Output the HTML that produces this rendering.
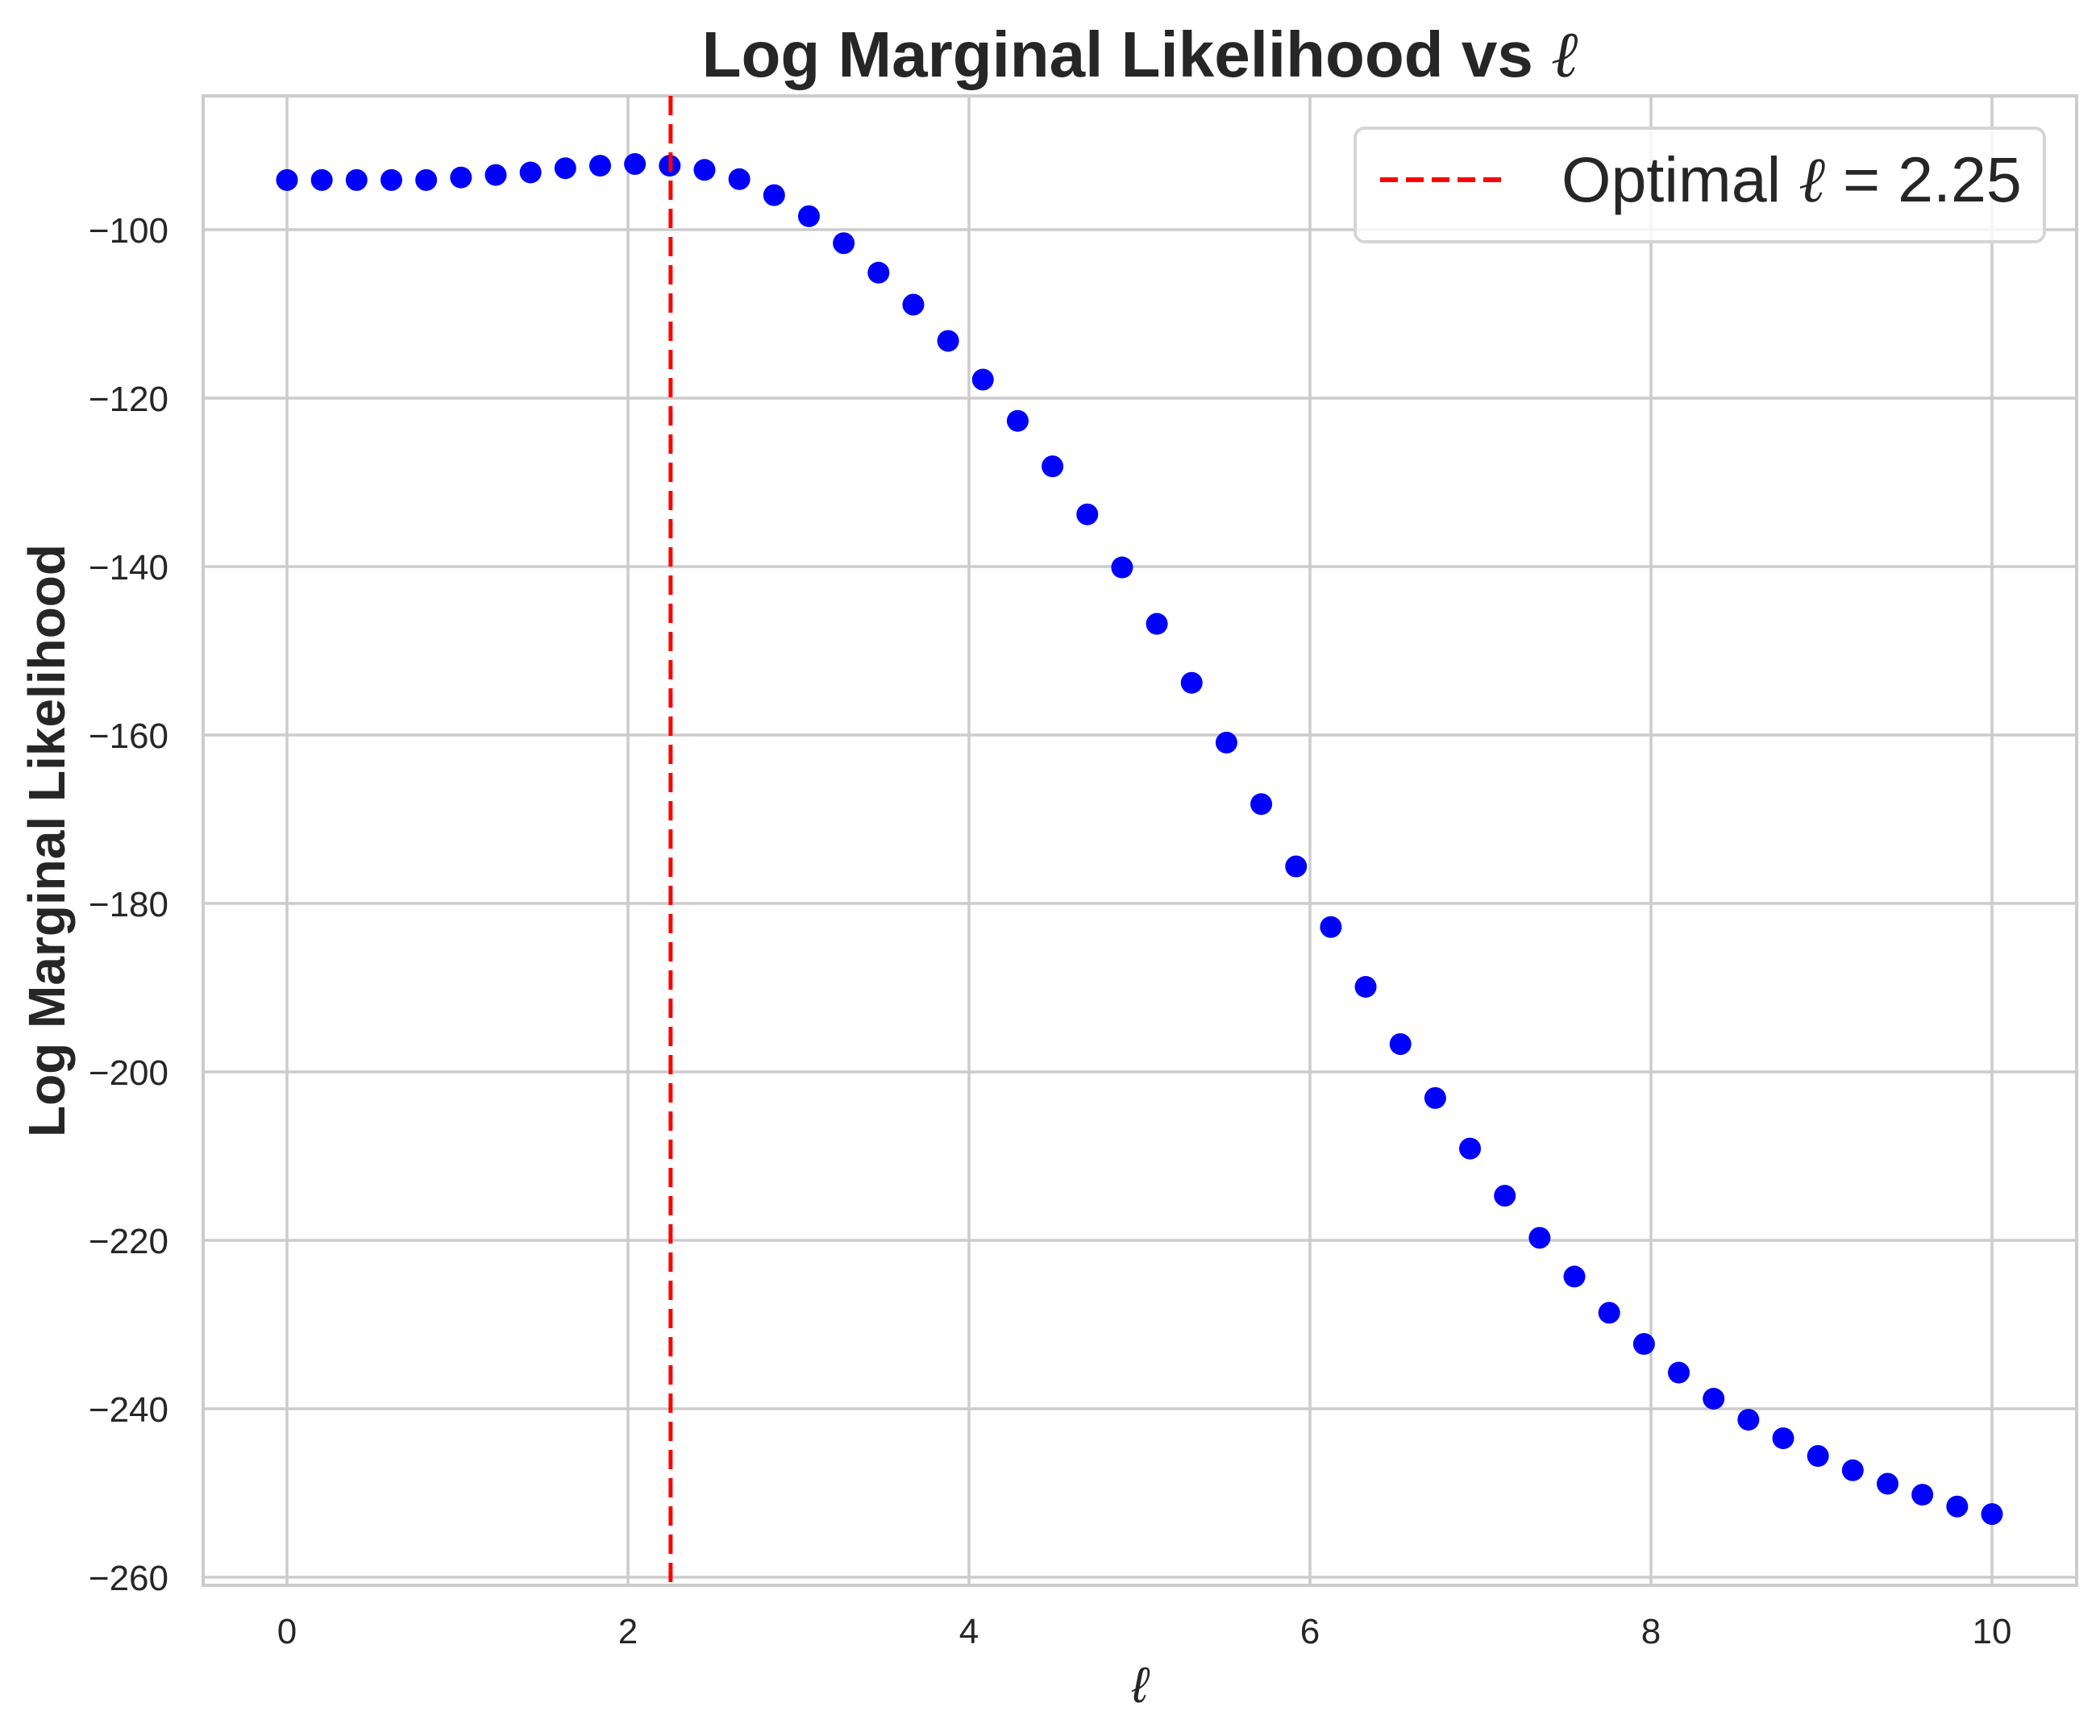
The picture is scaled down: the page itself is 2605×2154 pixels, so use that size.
<!DOCTYPE html>
<html><head><meta charset="utf-8"><style>body{margin:0;background:#fff}svg{display:block}text{font-family:"Liberation Sans",sans-serif;fill:#262626}</style></head>
<body>
<svg id="chart" width="2605" height="2154" viewBox="0 0 2605 2154" xmlns="http://www.w3.org/2000/svg">
<g id="grid"></g>
<g id="axes"></g>
<g id="marks"></g>
</svg>
<script>
const xValues = Array.from({length:50},(_,i)=>i*10/49);
const yValues = [-94.1,-94.1,-94.1,-94.1,-94.1,-93.8,-93.5,-93.2,-92.7,-92.4,-92.2,-92.4,-92.9,-94.0,-95.9,-98.4,-101.6,-105.1,-108.9,-113.2,-117.8,-122.7,-128.1,-133.8,-140.1,-146.8,-153.8,-160.9,-168.2,-175.6,-182.8,-189.9,-196.7,-203.1,-209.1,-214.7,-219.7,-224.3,-228.6,-232.3,-235.7,-238.8,-241.3,-243.5,-245.6,-247.3,-248.9,-250.2,-251.6,-252.5];
const xTicks = [0,2,4,6,8,10];
const yTicks = [-100,-120,-140,-160,-180,-200,-220,-240,-260];
const optimal = 2.25;

const NS="http://www.w3.org/2000/svg";
const L=252,R=2576,T=119,B=1967;
function sx(v){return 356+v*211.5;}
function sy(v){return 285+(-100-v)*10.45;}
function mk(tag,attrs,parent,txt){const e=document.createElementNS(NS,tag);for(const k in attrs)e.setAttribute(k,attrs[k]);if(txt!==undefined)e.textContent=txt;parent.appendChild(e);return e;}
const svg=document.getElementById('chart'),grid=document.getElementById('grid'),axes=document.getElementById('axes'),marks=document.getElementById('marks');

xTicks.forEach(t=>{
  const l=mk('line',{x1:sx(t),x2:sx(t),y1:T,y2:B,stroke:'#cccccc','stroke-width':3.5},grid);
  
  
  const tx=mk('text',{x:sx(t),y:2039,'font-size':44,'text-anchor':'middle'},axes,String(t));
  
  
});
yTicks.forEach(t=>{
  const l=mk('line',{x1:L,x2:R,y1:sy(t),y2:sy(t),stroke:'#cccccc','stroke-width':3.5},grid);
  
  
  const tx=mk('text',{x:209,y:sy(t)+16,'font-size':44,'text-anchor':'end'},axes,'\u2212'+Math.abs(t));
  
  
});
const fr=mk('rect',{x:L,y:T,width:R-L,height:B-T,fill:'none',stroke:'#cccccc','stroke-width':4},axes);



xValues.forEach((x,i)=>{
  const c=mk('circle',{cx:sx(x),cy:sy(yValues[i]),r:13.5,fill:'#0000ff'},marks);
  
  
});
const vl=mk('line',{x1:sx(optimal),x2:sx(optimal),y1:T,y2:B,stroke:'#ff0000','stroke-width':5,'stroke-dasharray':'24 11'},svg);



const tt=mk('text',{x:1414,y:95,'font-size':80,'font-weight':'bold','text-anchor':'middle'},svg);


tt.appendChild(document.createTextNode('Log Marginal Likelihood vs '));
mk('tspan',{'font-style':'italic','font-weight':'normal','font-family':'"DejaVu Serif",serif'},tt,'\u2113');
const yl=mk('text',{x:0,y:0,'font-size':64,'font-weight':'bold','text-anchor':'middle',transform:'translate(80,1043) rotate(-90)'},svg,'Log Marginal Likelihood');


const xl=mk('text',{x:1414,y:2112,'font-size':62,'font-style':'italic','text-anchor':'middle','font-family':'"DejaVu Serif",serif'},svg,'\u2113');



const lg=mk('g',{},svg);


mk('rect',{x:1681,y:159,width:855,height:141,rx:12,fill:'rgba(255,255,255,0.8)',stroke:'#d5d5d5','stroke-width':4},lg);
const ll=mk('line',{x1:1712,x2:1868,y1:223,y2:223,stroke:'#ff0000','stroke-width':6,'stroke-dasharray':'22 10'},lg);


const lt=mk('text',{x:1937,y:250,'font-size':79},lg);


lt.appendChild(document.createTextNode('Optimal '));
mk('tspan',{'font-style':'italic','font-family':'"DejaVu Serif",serif'},lt,'\u2113');
lt.appendChild(document.createTextNode(' = 2.25'));
</script>
</body></html>
